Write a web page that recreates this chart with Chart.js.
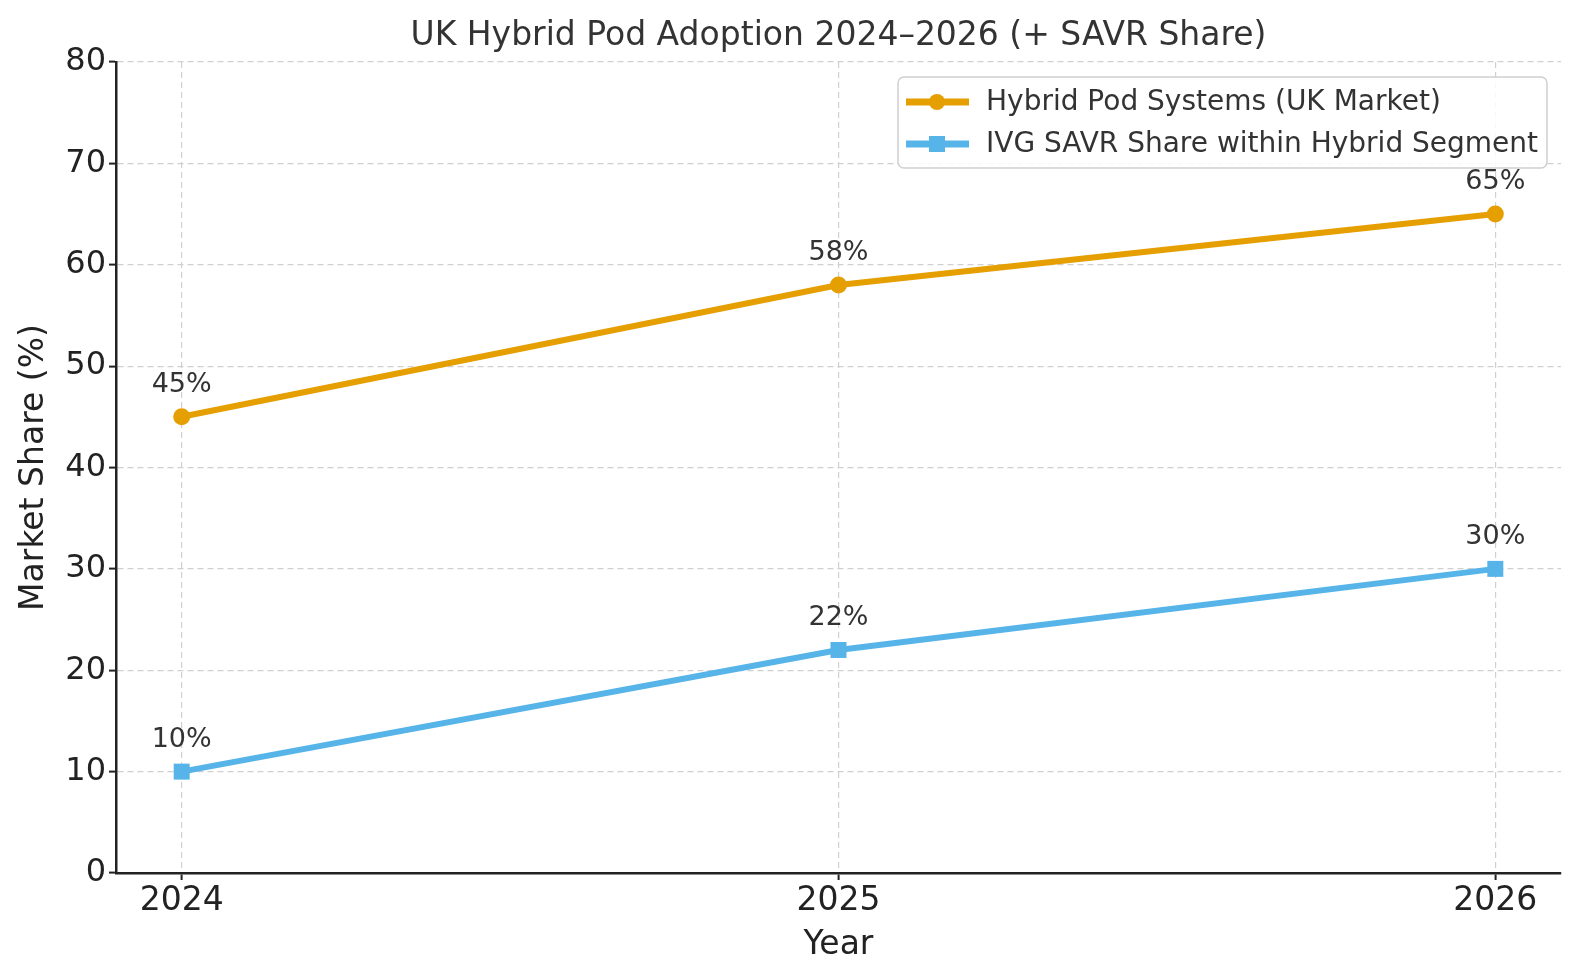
<!DOCTYPE html>
<html>
<head>
<meta charset="utf-8">
<title>UK Hybrid Pod Adoption</title>
<script src="https://cdn.jsdelivr.net/npm/chart.js@4.4.1/dist/chart.umd.min.js"></script>
<style>
  html, body { margin: 0; padding: 0; background: #fff; }
  #wrap { width: 1580px; height: 980px; }
</style>
</head>
<body>
<div id="wrap"><canvas id="adoptionChart" width="1580" height="980"></canvas></div>
<script>
// chart data
const years = [2024, 2025, 2026];
const hybridPodShare = [45, 58, 65];
const savrShare = [10, 22, 30];
const yTicks = [0, 10, 20, 30, 40, 50, 60, 70, 80];

const seriesNames = ['Hybrid Pod Systems (UK Market)', 'IVG SAVR Share within Hybrid Segment'];
const orange = '#E69F00';
const blue = '#56B4E9';
const font = 'DejaVu Sans';

const toPoints = vals => vals.map((v, i) => ({ x: years[i], y: v }));

// percent labels above each point
const valueLabels = {
  id: 'valueLabels',
  afterDatasetsDraw(chart) {
    const ctx = chart.ctx;
    ctx.save();
    ctx.font = '27px "' + font + '"';
    ctx.fillStyle = '#333';
    ctx.textAlign = 'center';
    ctx.textBaseline = 'middle';
    chart.data.datasets.forEach((ds, di) => {
      chart.getDatasetMeta(di).data.forEach((pt, i) => {
        ctx.fillText(ds.data[i].y + '%', pt.x, pt.y - 32);
      });
    });
    ctx.restore();
  }
};

// matplotlib-like legend box inside the plot
const boxLegend = {
  id: 'boxLegend',
  afterDraw(chart) {
    const ctx = chart.ctx;
    const x0 = 898, y0 = 77, w = 649, h = 91;
    ctx.save();
    ctx.beginPath();
    ctx.roundRect(x0, y0, w, h, 6);
    ctx.fillStyle = 'rgba(255,255,255,0.85)';
    ctx.fill();
    ctx.lineWidth = 1.5;
    ctx.strokeStyle = '#d0d0d0';
    ctx.stroke();
    ctx.font = '28px "' + font + '"';
    ctx.textBaseline = 'middle';
    chart.data.datasets.forEach((ds, i) => {
      const cy = y0 + 25 + i * 42;
      ctx.strokeStyle = ds.borderColor;
      ctx.lineWidth = 7;
      ctx.beginPath();
      ctx.moveTo(x0 + 8, cy);
      ctx.lineTo(x0 + 71, cy);
      ctx.stroke();
      ctx.fillStyle = ds.borderColor;
      if (ds.pointStyle === 'rect') {
        ctx.fillRect(x0 + 39 - 8, cy - 8, 16, 16);
      } else {
        ctx.beginPath();
        ctx.arc(x0 + 39, cy, 8, 0, Math.PI * 2);
        ctx.fill();
      }
      ctx.fillStyle = '#333';
      ctx.fillText(ds.label, x0 + 88, cy + 1);
    });
    ctx.restore();
  }
};

new Chart(document.getElementById('adoptionChart'), {
  type: 'line',
  data: {
    datasets: [{
      label: seriesNames[0],
      data: toPoints(hybridPodShare),
      borderColor: orange,
      backgroundColor: orange,
      borderWidth: 6,
      pointStyle: 'circle',
      pointRadius: 8.5,
      pointHoverRadius: 8.5,
      pointBorderWidth: 0,
      tension: 0
    }, {
      label: seriesNames[1],
      data: toPoints(savrShare),
      borderColor: blue,
      backgroundColor: blue,
      borderWidth: 6,
      pointStyle: 'rect',
      pointRadius: 11.3,
      pointHoverRadius: 11.3,
      pointBorderWidth: 0,
      tension: 0
    }]
  },
  options: {
    responsive: false,
    animation: false,
    layout: { padding: { left: 0, right: 19, top: 0, bottom: 0 } },
    plugins: {
      legend: { display: false },
      tooltip: { enabled: false },
      title: {
        display: true,
        fullSize: false,
        text: 'UK Hybrid Pod Adoption 2024–2026 (+ SAVR Share)',
        color: '#333',
        font: { family: font, size: 33, weight: 'normal', lineHeight: 1.2 },
        padding: { top: 17, bottom: 5.4 }
      }
    },
    scales: {
      x: {
        type: 'linear',
        min: years[0] - 0.1,
        max: years[years.length - 1] + 0.1,
        afterBuildTicks: scale => { scale.ticks = years.map(v => ({ value: v })); },
        afterFit: scale => { scale.height = 107; },
        ticks: {
          callback: v => String(v),
          color: '#222',
          padding: 2,
          maxRotation: 0,
          font: { family: font, size: 33 }
        },
        grid: { color: '#d0d0d0', lineWidth: 1.2, tickColor: '#222', tickLength: 7, tickWidth: 2 },
        border: { color: '#222', width: 2.5, dash: [6, 4] },
        title: {
          display: true, text: 'Year', color: '#222',
          font: { family: font, size: 33, lineHeight: 1.2 },
          padding: { top: 0, bottom: 15 }
        }
      },
      y: {
        min: 0,
        max: 80,
        afterBuildTicks: scale => { scale.ticks = yTicks.map(v => ({ value: v })); },
        afterFit: scale => { scale.width = 116; },
        ticks: {
          color: '#222',
          padding: 3,
          font: { family: font, size: 32 }
        },
        grid: { color: '#d0d0d0', lineWidth: 1.2, tickColor: '#222', tickLength: 7, tickWidth: 2 },
        border: { color: '#222', width: 2.5, dash: [6, 4] },
        title: {
          display: true, text: 'Market Share (%)', color: '#222',
          font: { family: font, size: 33, lineHeight: 1.2 },
          padding: { top: 15, bottom: 0 }
        }
      }
    }
  },
  plugins: [valueLabels, boxLegend]
});
</script>
</body>
</html>
